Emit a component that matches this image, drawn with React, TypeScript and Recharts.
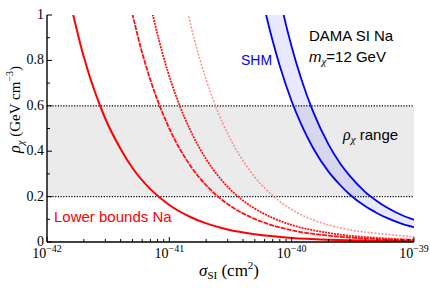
import { ComposedChart, Line, Area, XAxis, YAxis, ReferenceArea, ReferenceLine } from 'recharts';

const W = 430;
const H = 288;
const SERIF = 'Liberation Serif, Times New Roman, serif';
const SANS = 'Liberation Sans, Arial, sans-serif';

// axis ticks
const X_MAJOR = [1e-42, 1e-41, 1e-40, 1e-39];
const X_MAJOR_EXP = ['−42', '−41', '−40', '−39'];
const X_MINOR_STEPS = [2, 3, 4, 5, 6, 7, 8, 9];
const X_TICKS = [
  ...X_MAJOR,
  ...X_MAJOR.slice(0, 3).flatMap((d) => X_MINOR_STEPS.map((k) => k * d)),
].sort((a, b) => a - b);
const Y_TICKS = [0, 0.1, 0.2, 0.3, 0.4, 0.5, 0.6, 0.7, 0.8, 0.9, 1];
const Y_MAJOR = [0, 0.2, 0.4, 0.6, 0.8, 1];

// rho_chi range band
const RHO_RANGE = [0.2, 0.6];

// lower bounds Na (sigma in cm^2, rho in GeV cm^-3)
const RED1_S = [1.4e-42, 2e-42, 3e-42, 4e-42, 5e-42, 7e-42, 1e-41, 1.5e-41, 2e-41, 3e-41, 5e-41, 1e-40, 2e-40, 5e-40, 1e-39];
const RED1_R = [1.16, 0.815, 0.543, 0.41, 0.326, 0.233, 0.163, 0.109, 0.082, 0.055, 0.034, 0.018, 0.01, 0.005, 0.003];

const RED2_S = [4.5e-42, 6e-42, 8e-42, 1e-41, 1.5e-41, 2e-41, 2.5e-41, 3e-41, 4e-41, 6e-41, 1e-40, 2e-40, 5e-40, 1e-39];
const RED2_R = [1.11, 0.833, 0.625, 0.5, 0.333, 0.25, 0.2, 0.167, 0.126, 0.085, 0.052, 0.028, 0.013, 0.008];

const RED3_S = [6.5e-42, 9e-42, 1.2e-41, 1.5e-41, 2e-41, 2.5e-41, 3e-41, 4e-41, 5e-41, 7e-41, 1e-40, 2e-40, 5e-40, 1e-39];
const RED3_R = [1.12, 0.811, 0.608, 0.487, 0.365, 0.292, 0.243, 0.183, 0.147, 0.106, 0.075, 0.04, 0.018, 0.01];

const RED4_S = [1.3e-41, 1.5e-41, 2e-41, 2.5e-41, 3e-41, 4e-41, 5e-41, 7e-41, 1e-40, 1.5e-40, 2e-40, 3e-40, 5e-40, 1e-39];
const RED4_R = [1.1, 0.953, 0.715, 0.572, 0.477, 0.358, 0.286, 0.204, 0.143, 0.097, 0.075, 0.053, 0.038, 0.023];

// SHM band
const SHM_S = [5e-41, 6e-41, 7e-41, 8e-41, 1e-40, 1.2e-40, 1.5e-40, 2e-40, 2.5e-40, 3e-40, 4e-40, 5e-40, 6e-40, 8e-40, 1e-39];
const SHM_LOW = [1.24, 1.03, 0.885, 0.775, 0.62, 0.517, 0.413, 0.31, 0.25, 0.208, 0.157, 0.127, 0.106, 0.08, 0.065];
const SHM_HIGH = [1.72, 1.43, 1.23, 1.075, 0.86, 0.717, 0.573, 0.43, 0.345, 0.29, 0.22, 0.18, 0.152, 0.118, 0.098];

const toPts = (s: number[], r: number[]) => s.map((v, i) => ({ s: v, r: r[i] }));
const red1 = toPts(RED1_S, RED1_R);
const red2 = toPts(RED2_S, RED2_R);
const red3 = toPts(RED3_S, RED3_R);
const red4 = toPts(RED4_S, RED4_R);
const shmLow = toPts(SHM_S, SHM_LOW);
const shmHigh = toPts(SHM_S, SHM_HIGH);
const shmBand = SHM_S.map((v, i) => ({ s: v, band: [SHM_LOW[i], SHM_HIGH[i]] }));

function BottomTick({ x, y, payload }: any) {
  const i = X_MAJOR.indexOf(payload.value);
  const major = i >= 0;
  return (
    <g>
      <line x1={x} x2={x} y1={y} y2={y - (major ? 5 : 3)} stroke="#000" strokeWidth={1} />
      {major && (
        <text x={x} y={y + 16} textAnchor="middle" fontFamily={SERIF} fontSize={14} fill="#000">
          10
          <tspan dy={-6} fontSize={10}>
            {X_MAJOR_EXP[i]}
          </tspan>
        </text>
      )}
    </g>
  );
}

function TopTick({ x, y, payload }: any) {
  const major = X_MAJOR.includes(payload.value);
  return <line x1={x} x2={x} y1={y} y2={y + (major ? 5 : 3)} stroke="#000" strokeWidth={1} />;
}

function LeftTick({ x, y, payload }: any) {
  const major = Y_MAJOR.includes(payload.value);
  const v = payload.value;
  const label = v === 0 || v === 1 ? String(v) : v.toFixed(1);
  return (
    <g>
      <line x1={x} x2={x + (major ? 5 : 3)} y1={y} y2={y} stroke="#000" strokeWidth={1} />
      {major && (
        <text x={x - 3} y={y + 4} textAnchor="end" fontFamily={SERIF} fontSize={14} fill="#000">
          {label}
        </text>
      )}
    </g>
  );
}

function RightTick({ x, y, payload }: any) {
  const major = Y_MAJOR.includes(payload.value);
  return <line x1={x} x2={x - (major ? 5 : 3)} y1={y} y2={y} stroke="#000" strokeWidth={1} />;
}

export default function App() {
  return (
    <div style={{ position: 'absolute', left: 0, top: 0, width: W, height: H, background: '#fff' }}>
      <ComposedChart width={W} height={H} margin={{ top: 15, right: 16, left: 0, bottom: 0 }}>
        <XAxis
          dataKey="s"
          type="number"
          scale="log"
          domain={[1e-42, 1e-39]}
          allowDataOverflow
          ticks={X_TICKS}
          interval={0}
          tick={<BottomTick />}
          tickLine={false}
          tickSize={0}
          tickMargin={0}
          height={46}
          axisLine={{ stroke: '#000', strokeWidth: 1.4 }}
        />
        <XAxis
          xAxisId="t"
          orientation="top"
          dataKey="s"
          type="number"
          scale="log"
          domain={[1e-42, 1e-39]}
          allowDataOverflow
          ticks={X_TICKS}
          interval={0}
          tick={<TopTick />}
          tickLine={false}
          tickSize={0}
          tickMargin={0}
          height={0}
          axisLine={{ stroke: '#000', strokeWidth: 1.4 }}
        />
        <YAxis
          type="number"
          domain={[0, 1]}
          allowDataOverflow
          ticks={Y_TICKS}
          interval={0}
          tick={<LeftTick />}
          tickLine={false}
          tickSize={0}
          tickMargin={0}
          width={47}
          axisLine={{ stroke: '#000', strokeWidth: 1.4 }}
        />
        <YAxis
          yAxisId="r"
          orientation="right"
          type="number"
          domain={[0, 1]}
          allowDataOverflow
          ticks={Y_TICKS}
          interval={0}
          tick={<RightTick />}
          tickLine={false}
          tickSize={0}
          tickMargin={0}
          width={0}
          axisLine={{ stroke: '#000', strokeWidth: 1.4 }}
        />
        <ReferenceArea y1={RHO_RANGE[0]} y2={RHO_RANGE[1]} fill="#ebebeb" fillOpacity={1} stroke="none" />
        <Area
          data={shmBand}
          dataKey="band"
          type="monotone"
          stroke="none"
          fill="#4040ff"
          fillOpacity={0.12}
          isAnimationActive={false}
        />
        {RHO_RANGE.map((r) => (
          <ReferenceLine key={r} y={r} stroke="#000" strokeWidth={1.2} strokeDasharray="1.2 1.5" />
        ))}
        <Line data={red4} dataKey="r" type="monotone" stroke="#ff8c8c" strokeWidth={1.5} strokeDasharray="2 1.5" dot={false} isAnimationActive={false} />
        <Line data={red3} dataKey="r" type="monotone" stroke="#ff1010" strokeWidth={1.8} strokeDasharray="2 1" dot={false} isAnimationActive={false} />
        <Line data={red2} dataKey="r" type="monotone" stroke="#ff1010" strokeWidth={1.8} strokeDasharray="5 1" dot={false} isAnimationActive={false} />
        <Line data={red1} dataKey="r" type="monotone" stroke="#ff0000" strokeWidth={2} dot={false} isAnimationActive={false} />
        <Line data={shmLow} dataKey="r" type="monotone" stroke="#0000ff" strokeWidth={1.8} dot={false} isAnimationActive={false} />
        <Line data={shmHigh} dataKey="r" type="monotone" stroke="#0000ff" strokeWidth={1.8} dot={false} isAnimationActive={false} />
      </ComposedChart>
      <svg width={W} height={H} style={{ position: 'absolute', left: 0, top: 0, pointerEvents: 'none' }}>
        <text x={199} y={276} fontFamily={SERIF} fontSize={17} fill="#000">
          <tspan fontStyle="italic">σ</tspan>
          <tspan fontSize={11} dy={3}>SI</tspan>
          <tspan dy={-3}> (cm</tspan>
          <tspan fontSize={11} dy={-7}>2</tspan>
          <tspan dy={7}>)</tspan>
        </text>
        <text transform="translate(20,153) rotate(-90)" fontFamily={SERIF} fontSize={15} fill="#000">
          <tspan fontStyle="italic" fontSize={16}>ρ</tspan>
          <tspan fontStyle="italic" fontSize={11} dy={4}>χ</tspan>
          <tspan dy={-4}> (GeV cm</tspan>
          <tspan fontSize={10} dy={-7}>−3</tspan>
          <tspan dy={7}>)</tspan>
        </text>
        <text x={309} y={41} fontFamily={SANS} fontSize={15} fill="#000">DAMA SI Na</text>
        <text x={309} y={62} fontFamily={SANS} fontSize={15} fill="#000">
          <tspan fontStyle="italic">m</tspan>
          <tspan fontFamily={SERIF} fontStyle="italic" fontSize={11} dy={3}>χ</tspan>
          <tspan dy={-3}>=12 GeV</tspan>
        </text>
        <text x={241} y={65} fontFamily={SANS} fontSize={14} fill="#0000ff">SHM</text>
        <text x={343} y={140} fontFamily={SANS} fontSize={15} fill="#000">
          <tspan fontFamily={SERIF} fontStyle="italic" fontSize={16}>ρ</tspan>
          <tspan fontFamily={SERIF} fontStyle="italic" fontSize={11} dy={3}>χ</tspan>
          <tspan dy={-3}> range</tspan>
        </text>
        <text x={54} y={222} fontFamily={SANS} fontSize={15} fill="#ff0000">Lower bounds Na</text>
      </svg>
    </div>
  );
}
